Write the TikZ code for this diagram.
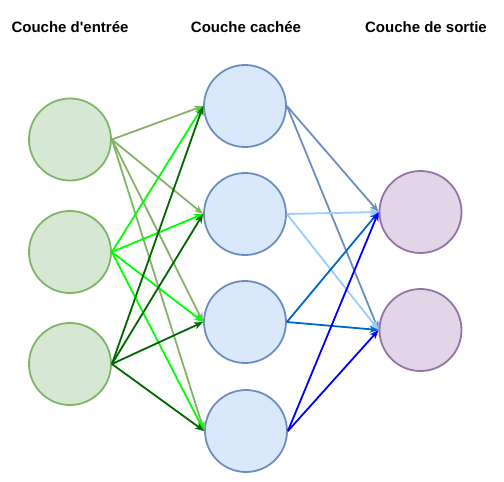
\documentclass[tikz,border=0pt]{standalone}
\usepackage{fontspec}
\setmainfont{Liberation Sans}[Ligatures=TeXOff]
\usetikzlibrary{positioning,arrows.meta}

\definecolor{entreefill}{HTML}{D5E8D4}
\definecolor{entreedraw}{HTML}{82B366}
\definecolor{cacheefill}{HTML}{DAE8FC}
\definecolor{cacheedraw}{HTML}{6C8EBF}
\definecolor{sortiefill}{HTML}{E1D5E7}
\definecolor{sortiedraw}{HTML}{9673A6}
\definecolor{vertvif}{HTML}{00FF00}
\definecolor{vertfonce}{HTML}{006600}
\definecolor{bleuclair}{HTML}{99CCFF}
\definecolor{bleumoyen}{HTML}{0066CC}
\definecolor{bleuvif}{HTML}{0000FF}

\tikzset{
  neurone/.style={circle,line width=1.8pt,minimum size=82pt,inner sep=0pt},
  entree/.style={neurone,draw=entreedraw,fill=entreefill},
  cachee/.style={neurone,draw=cacheedraw,fill=cacheefill},
  sortie/.style={neurone,draw=sortiedraw,fill=sortiefill},
  titre/.style={font=\bfseries\fontsize{15}{18}\selectfont}
}

\begin{document}
\begin{tikzpicture}[x=1pt,y=-1pt,->,>={Stealth[length=9pt,width=7pt,inset=2.5pt]},
                line width=1.8pt]
		% \draw[help lines] (0,0) grid (504,482);
		\useasboundingbox (0,0) rectangle (504,482);
		\node[titre] (t_e) at (70,27) {Couche d'entrée};
		\node[titre] (t_c) at (246,27) {Couche cachée};
		\node[titre] (t_s) at (426,27) {Couche de sortie};
		\node[entree] (e_1) at (70,139.5) {}; \node[entree] (e_2) at (70,252) {};
		\node[entree] (e_3) at (70,364) {};
		\node[cachee] (c_1) at (245,106) {}; \node[cachee] (c_2) at (245,214) {};
		\node[cachee] (c_3) at (245,322) {}; \node[cachee] (c_4) at (246,431) {};
		\node[sortie] (s_1) at (420.5,212) {}; \node[sortie] (s_2) at (420.5,330) {};
		\foreach \c/\col in {1/entreedraw,2/vertvif,3/vertfonce}
		  \foreach \h in {1,2,3,4}
		    \draw[\col] (e_\c.east) to (c_\h.west);
		\foreach \h/\col in {1/cacheedraw,2/bleuclair,3/bleumoyen,4/bleuvif}
		  \foreach \s in {1,2}
		    \draw[\col] (c_\h.east) to (s_\s.west);
              \end{tikzpicture}
\end{document}
